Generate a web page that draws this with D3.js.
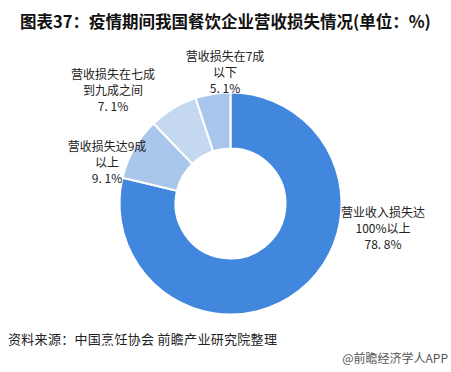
<!DOCTYPE html>
<html>
<head>
<meta charset="utf-8">
<script src="https://cdn.jsdelivr.net/npm/d3@7"></script>
<style>
  body { margin: 0; background: #fff; }
  svg text { font-family: "Noto Sans CJK SC", "DejaVu Sans", sans-serif; }
</style>
</head>
<body>
<svg id="chart" width="451" height="372"></svg>
<script>
var categories = ["营业收入损失达100%以上", "营收损失达9成以上", "营收损失在七成到九成之间", "营收损失在7成以下"];
var values = [78.8, 9.1, 7.1, 5.1];
var valueLabels = ["78. 8%", "9. 1%", "7. 1%", "5. 1%"];
var labelLines = [["营业收入损失达", "100%以上"], ["营收损失达9成", "以上"], ["营收损失在七成", "到九成之间"], ["营收损失在7成", "以下"]];
var colors = ["#4287de", "#a9c7ea", "#c4d8f0", "#a8c6eb"];

var svg = d3.select("#chart");

svg.append("text")
    .attr("x", 20).attr("y", 28)
    .attr("font-size", 16.5).attr("font-weight", "bold").attr("fill", "#111")
    .text("图表37：疫情期间我国餐饮企业营收损失情况(单位：%)");

var cx = 230.5, cy = 203.5, rOuter = 111, rInner = 55;
var pie = d3.pie().sort(null).value((d) => d);
var arc = d3.arc().innerRadius(rInner).outerRadius(rOuter);
var arcs = pie(values);

var g = svg.append("g").attr("transform", "translate(" + cx + "," + cy + ")");
g.selectAll("path").data(arcs).enter().append("path")
    .attr("d", arc)
    .attr("fill", (d, i) => colors[i])
    .attr("stroke", "#fff").attr("stroke-width", 2);

// label anchor positions
var labelPos = [[383, 213], [107, 147], [113, 75], [225, 57]];
labelPos.forEach(function (p, i) {
    var t = svg.append("text")
        .attr("text-anchor", "middle")
        .attr("font-size", 12).attr("fill", "#222");
    labelLines[i].concat([valueLabels[i]]).forEach(function (line, k) {
        t.append("tspan").attr("x", p[0]).attr("y", p[1] + 4 + k * 16).text(line);
    });
});

svg.append("text")
    .attr("x", 8).attr("y", 344)
    .attr("font-size", 13).attr("fill", "#222")
    .attr("letter-spacing", 0.3)
    .text("资料来源：中国烹饪协会 前瞻产业研究院整理");

svg.append("text")
    .attr("x", 448).attr("y", 363).attr("text-anchor", "end")
    .attr("font-size", 12).attr("fill", "#555")
    .text("@前瞻经济学人APP");
</script>
</body>
</html>
